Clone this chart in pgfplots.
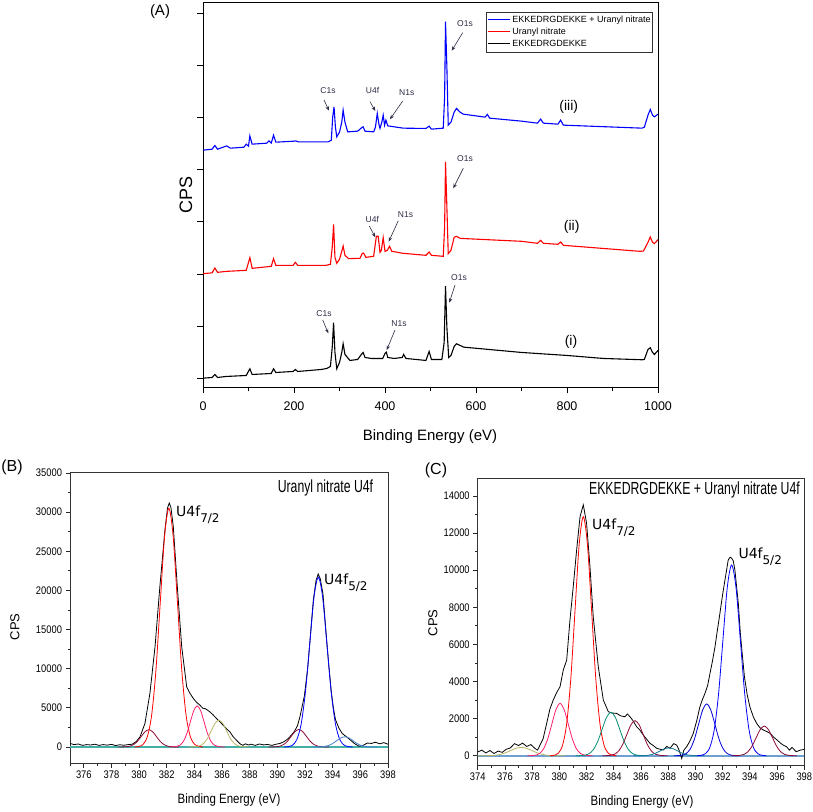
\documentclass[border=0pt]{standalone}
\usepackage{pgfplots}
\pgfplotsset{compat=1.18}
\usepackage{fontspec}
\setmainfont{Liberation Sans}
\newfontfamily\narrowA[FakeStretch=0.85]{Liberation Sans}
\newfontfamily\narrowT[FakeStretch=0.7]{Liberation Sans}
\newfontfamily\dejavu{DejaVu Sans}
\usetikzlibrary{arrows.meta}
\definecolor{annot}{RGB}{45,45,70}
\definecolor{maroonc}{RGB}{140,10,50}
\definecolor{pinkc}{RGB}{255,30,110}
\definecolor{olivec}{RGB}{185,180,100}
\definecolor{lbluec}{RGB}{70,130,210}
\definecolor{tealb}{RGB}{70,175,170}
\definecolor{tealg}{RGB}{0,140,115}
\definecolor{teals}{RGB}{20,120,150}
\definecolor{basec}{RGB}{110,160,210}
\definecolor{blueA}{RGB}{0,0,255}
\definecolor{redA}{RGB}{255,0,0}
\pgfplotsset{xps/.style={scale only axis, anchor=south west, tick align=outside,
  xtick pos=bottom, ytick pos=left, major tick length=4.5pt, minor tick length=2.5pt,
  tick style={black!85, line width=0.8pt}, axis line style={black!80, line width=1pt},
  ticklabel style={font=\narrowA\fontsize{11}{12}\selectfont},
  /pgf/number format/assume math mode=true, /pgf/number format/1000 sep={},
  scaled ticks=false, clip=true}}
\begin{document}
\begin{tikzpicture}[x=1pt,y=1pt]
\useasboundingbox (0,0) rectangle (813,811);
% ---------------- Panel A ----------------
\begin{axis}[at={(203pt,423.5pt)}, anchor=south west, scale only axis,
  width=455pt, height=384.5pt, xmin=0, xmax=1000, ymin=0, ymax=384,
  xtick={0,200,400,600,800,1000}, minor xtick={100,300,500,700,900},
  ytick={9,61.1,113.3,165.4,217.6,269.7,321.9,374}, yticklabels={},
  tick align=outside, xtick pos=bottom, ytick pos=left,
  major tick length=6pt, minor tick length=4pt,
  tick style={black, line width=1pt}, axis line style={black, line width=1pt},
  ticklabel style={font=\fontsize{12.5}{13}\selectfont},
  xticklabel style={yshift=-5pt},
  /pgf/number format/assume math mode=true, /pgf/number format/1000 sep={},
  every axis plot/.append style={line width=1.1pt}]
\addplot[blueA] coordinates {(0,237) (20,238) (26,241.7) (32,238) (52,241.3) (60,239) (90,240) (95,243) (100,241) (103,251.3) (108,243) (140,244) (145,246.3) (150,244) (155,252) (160,245) (200,246) (203,246.3) (210,245.3) (275,245.3) (282,247) (285,270) (288,280.3) (291,260) (294,250.3) (300,255) (305,265) (308,277) (312,265) (318,255.3) (340,256) (350,260) (352,260.3) (356,256) (375,255.3) (379,260) (383,273.7) (387,262) (389,258.7) (393,265) (396,272) (399,262) (402,267) (406,261.3) (440,259) (490,258.7) (497,261) (502,258) (528,259) (531,290) (533,365.3) (536,320) (539,262) (545,265) (552,275) (557,278.7) (565,275) (572,273) (620,270) (625,272.7) (630,269) (700,266) (735,264) (742,268) (748,264) (780,263) (786,267) (792,262) (965,259) (970,260) (978,272) (983,277.7) (988,272) (992,270.3) (1000,273)};
\addplot[redA] coordinates {(0,113.7) (20,114.5) (26,119.3) (32,115) (52,116) (95,117) (103,129.7) (108,119) (150,121) (155,128.7) (160,122) (198,122) (203,125) (208,122) (270,122) (280,123) (284,140) (287,163) (290,130) (294,124) (300,128) (305,136) (308,141.3) (312,132) (320,128.7) (345,129) (350,134) (353,134.3) (358,130) (375,131) (381,151) (385,151) (389,135) (392,137) (396,149.7) (400,136) (405,137) (410,141) (415,136) (440,134) (490,132) (497,135.3) (502,132) (528,131) (531,160) (533,225.3) (536,180) (539,133.7) (545,137) (552,150) (557,151) (565,149) (575,148.7) (700,146) (735,144) (742,147) (748,144) (780,143) (786,145.3) (792,142) (960,136) (968,136.3) (978,145) (983,150.3) (988,145) (992,143.7) (1000,147.7)};
\addplot[black] coordinates {(0,9.3) (20,10) (26,13) (32,10) (50,11) (95,12) (103,18.7) (108,13) (150,14) (155,18.7) (160,15) (198,16) (203,18) (208,16) (260,18) (272,19) (280,21) (284,40) (287,64.7) (290,35) (294,18.7) (300,25) (305,35) (308,43.7) (312,33) (323,27) (340,28) (348,33) (352,35) (356,30) (370,29) (395,29) (400,34) (403,35.3) (406,30) (420,29) (438,30) (441,33) (446,29) (490,27) (497,36) (502,28) (525,28) (530,45) (533,101.3) (536,60) (540,30) (545,32) (552,41) (557,43.7) (565,42) (573,40.3) (700,35) (800,32) (880,29) (965,27.7) (970,28) (978,38) (983,39.7) (988,35) (992,33) (1000,37)};
\end{axis}
\node[draw=black!80, line width=0.7pt, anchor=north east, inner sep=2pt, fill=white,
  font=\fontsize{9}{12}\selectfont] at (653,799) {\begin{tabular}{@{}l@{\hspace{2pt}}l@{}}
\textcolor{blueA}{\rule[2.6pt]{22pt}{1.2pt}} & EKKEDRGDEKKE + Uranyl nitrate\\
\textcolor{redA}{\rule[2.6pt]{22pt}{1.2pt}} & Uranyl nitrate\\
\textcolor{black}{\rule[2.6pt]{22pt}{1.2pt}} & EKKEDRGDEKKE
\end{tabular}};
\node[font=\fontsize{15}{16}\selectfont] at (430,374) {Binding Energy (eV)};
\node[font=\fontsize{18}{19}\selectfont, rotate=90] at (186,616) {CPS};
\node[font=\fontsize{15}{16}\selectfont] at (160,799) {(A)};
\begin{scope}[every node/.style={font=\fontsize{8.5}{9}\selectfont, text=annot, inner sep=0pt}]
\node at (328,720.3) {C1s}; \node at (372.5,720.3) {U4f}; \node at (406.7,718.3) {N1s}; \node at (465,787) {O1s};
\node at (465,652.7) {O1s}; \node at (372.3,591.3) {U4f}; \node at (405.5,596.7) {N1s};
\node at (324,497) {C1s}; \node at (399,487) {N1s}; \node at (459,533.7) {O1s};
\end{scope}
\begin{scope}[annot, line width=0.6pt, -{Stealth[length=4.5pt,width=3.5pt]}]
\draw (324,711) -- (329,700.3); \draw (370,709.3) -- (375.3,700); \draw (402.7,710) -- (390,691.7); \draw (462.7,778.3) -- (451.7,760.3);
\draw (463.3,642.7) -- (453.3,622.7); \draw (369.3,585) -- (375.3,573.7); \draw (398.3,590.3) -- (388.7,569.3);
\draw (322.7,491) -- (328.3,477.7); \draw (395,481) -- (386.7,461); \draw (455,526) -- (449.3,508.3);
\end{scope}
\node[font=\fontsize{14}{15}\selectfont] at (568.7,704) {(iii)};
\node[font=\fontsize{14}{15}\selectfont] at (571.7,584.3) {(ii)};
\node[font=\fontsize{14}{15}\selectfont] at (571,469) {(i)};
% ---------------- Panel B ----------------
\begin{axis}[xps, at={(70pt,48pt)}, width=318pt, height=290pt,
  xmin=375, xmax=398, ymin=-2050, ymax=35000,
  xtick={376,378,...,398}, minor xtick={375,377,...,397},
  ytick={0,5000,...,35000}, minor ytick={2500,7500,...,32500},
  every axis plot/.append style={line width=0.8pt}]
\addplot[tealb, line width=1.6pt] coordinates {(375,0) (398,0)};
\addplot[black] coordinates {(375.0,450) (375.3,300) (375.6,380) (375.9,200) (376.2,300) (376.5,250) (376.8,350) (377.1,200) (377.4,300) (377.7,230) (378.0,330) (378.3,180) (378.6,280) (378.9,220) (379.2,300) (379.5,350) (379.8,700) (380.06,1280) (380.42,3000) (380.78,6840) (381.15,12800) (381.5,20490) (381.87,27750) (382.05,30500) (382.18,31170) (382.3,30600) (382.47,28170) (382.76,20490) (383.08,12800) (383.44,7680) (383.68,6840) (383.92,6200) (384.15,5700) (384.4,5340) (384.6,4950) (384.76,4910) (384.95,4700) (385.12,4480) (385.35,4100) (385.6,3630) (385.85,3200) (386.08,2780) (386.3,2350) (386.57,1920) (386.8,1300) (387.05,850) (387.3,400) (387.5,213) (387.7,400) (387.9,250) (388.1,350) (388.4,200) (388.7,380) (389.0,260) (389.3,320) (389.6,200) (389.9,350) (390.2,450) (390.5,700) (390.8,1100) (391.0,1500) (391.2,1900) (391.45,2700) (391.63,3840) (391.95,6500) (392.2,10200) (392.4,14500) (392.6,18800) (392.8,21300) (392.95,22100) (393.1,21500) (393.3,19500) (393.5,15000) (393.7,10800) (393.9,7000) (394.05,5000) (394.2,3500) (394.45,2400) (394.7,1700) (395.0,1300) (395.3,850) (395.6,400) (395.9,100) (396.2,200) (396.5,500) (396.8,450) (397.1,600) (397.4,400) (397.7,550) (398.0,350)};
\addplot[maroonc, smooth] coordinates {(378.5,0) (378.775,4.8) (379.05,24.4) (379.325,96.6) (379.6,297.7) (379.875,714.3) (380.15,1334.3) (380.425,1941.5) (380.7,2200) (380.975,1941.5) (381.25,1334.3) (381.525,714.3) (381.8,297.7) (382.075,96.6) (382.35,24.4) (382.625,4.8) (382.9,0)};
\addplot[redA, smooth] coordinates {(379.67,0) (379.98,67) (380.29,339) (380.6,1339) (380.91,4127) (381.22,9903) (381.53,18498) (381.84,26916) (382.15,30500) (382.46,26916) (382.77,18498) (383.08,9903) (383.39,4127) (383.7,1339) (384.01,339) (384.32,67) (384.63,0)};
\addplot[pinkc, smooth] coordinates {(382.2,0) (382.45,11.6) (382.7,58.3) (382.95,230.5) (383.2,710.3) (383.45,1704.7) (383.7,3184.1) (383.95,4633.1) (384.2,5250) (384.45,4633.1) (384.7,3184.1) (384.95,1704.7) (385.2,710.3) (385.45,230.5) (385.7,58.3) (385.95,11.6) (386.2,0)};
\addplot[olivec, smooth] coordinates {(383.57,0) (383.845,7.5) (384.12,38) (384.395,150) (384.67,463) (384.945,1110) (385.22,2074) (385.495,3018) (385.77,3420) (386.045,3018) (386.32,2074) (386.595,1110) (386.87,463) (387.145,150) (387.42,38) (387.695,7.5) (387.97,0)};
\addplot[maroonc, smooth] coordinates {(389.35,0) (389.625,4.9) (389.9,24.8) (390.175,97.9) (390.45,301.7) (390.725,724.1) (391.0,1352.5) (391.275,1968) (391.55,2230) (391.825,1968) (392.1,1352.5) (392.375,724.1) (392.65,301.7) (392.925,97.9) (393.2,24.8) (393.475,4.9) (393.75,0)};
\addplot[blueA, smooth] coordinates {(390.48,0) (390.79,47.7) (391.1,240.9) (391.41,952.6) (391.72,2936) (392.03,7046) (392.34,13161) (392.65,19150) (392.96,21700) (393.27,19150) (393.58,13161) (393.89,7046) (394.2,2936) (394.51,952.6) (394.82,240.9) (395.13,47.7) (395.44,0)};
\addplot[lbluec, smooth] coordinates {(392.48,0) (392.78,2.9) (393.08,14.4) (393.38,57) (393.68,176) (393.98,422) (394.28,788) (394.58,1147) (394.88,1300) (395.18,1147) (395.48,788) (395.78,422) (396.08,176) (396.38,57) (396.68,14.4) (396.98,2.9) (397.28,0)};
\end{axis}
\node[font=\narrowA\fontsize{13.5}{15}\selectfont] at (229,11) {Binding Energy (eV)};
\node[font=\fontsize{13}{14}\selectfont, rotate=90] at (15,184) {CPS};
\node[font=\fontsize{16}{17}\selectfont] at (12,343.5) {(B)};
\node[anchor=base east, inner sep=0pt, font=\narrowT\fontsize{17.5}{18}\selectfont] at (373.3,318.3) {Uranyl nitrate U4f};
\node[anchor=base west, inner sep=0pt, font=\dejavu\fontsize{14}{15}\selectfont] at (176,294.3) {U4f\raisebox{-6pt}{\fontsize{12}{12}\selectfont 7/2}};
\node[anchor=base west, inner sep=0pt, font=\dejavu\fontsize{14}{15}\selectfont] at (324,226.7) {U4f\raisebox{-6pt}{\fontsize{12}{12}\selectfont 5/2}};
% ---------------- Panel C ----------------
\begin{axis}[xps, at={(477.7pt,46pt)}, width=326.6pt, height=286.7pt,
  xmin=374, xmax=398, ymin=-500, ymax=14950,
  xtick={374,376,...,398}, minor xtick={375,377,...,397},
  ytick={0,2000,...,14000}, minor ytick={1000,3000,...,13000},
  every axis plot/.append style={line width=0.8pt}]
\addplot[basec, line width=1.6pt] coordinates {(374,0) (398,0)};
\addplot[black] coordinates {(374.0,200) (374.3,300) (374.6,150) (374.9,280) (375.2,120) (375.5,250) (375.8,180) (376.1,350) (376.4,420) (376.7,650) (377.0,550) (377.3,680) (377.6,500) (377.9,600) (378.2,400) (378.4,300) (378.58,577) (378.8,900) (379.07,1745) (379.3,2500) (379.55,3000) (379.8,3400) (380.05,3720) (380.29,4620) (380.54,5160) (380.78,7320) (381.02,9110) (381.27,11090) (381.52,12880) (381.76,13520) (382.0,12530) (382.25,10190) (382.49,7490) (382.86,4800) (383.23,3000) (383.6,2370) (383.9,2300) (384.21,2280) (384.5,2150) (384.82,2100) (385.0,2250) (385.19,2100) (385.4,1900) (385.68,1560) (385.9,1400) (386.17,1115) (386.4,900) (386.66,670) (386.9,550) (387.15,400) (387.4,350) (387.64,310) (387.9,500) (388.13,400) (388.4,650) (388.62,577) (388.8,300) (388.99,-150) (389.15,300) (389.36,490) (389.6,800) (389.84,1200) (390.1,1900) (390.33,2640) (390.5,3000) (390.7,3360) (390.9,3800) (391.07,4440) (391.25,5100) (391.44,5880) (391.6,6700) (391.8,7680) (392.0,8700) (392.17,9470) (392.41,10550) (392.55,10700) (392.66,10640) (392.78,10500) (392.9,10010) (393.15,8210) (393.3,6600) (393.45,5400) (393.6,4260) (393.8,3300) (394.0,2640) (394.25,2100) (394.5,1740) (394.75,1500) (395.0,1380) (395.25,1300) (395.5,1200) (395.75,1000) (396.0,845) (396.3,650) (396.5,550) (396.7,485) (396.9,300) (397.1,450) (397.4,215) (397.7,300) (398.0,340)};
\addplot[olivec, smooth] coordinates {(374.0,0) (374.4,1) (374.8,5) (375.2,19.8) (375.6,60.9) (376.0,146.1) (376.4,272.9) (376.8,397.1) (377.2,450) (377.6,397.1) (378.0,272.9) (378.4,146.1) (378.8,60.9) (379.2,19.8) (379.6,5) (380.0,1) (380.4,0)};
\addplot[pinkc, smooth] coordinates {(377.65,0) (377.95,6.2) (378.25,31.3) (378.55,123.8) (378.85,381.5) (379.15,915.7) (379.45,1710.3) (379.75,2488.7) (380.05,2820) (380.35,2488.7) (380.65,1710.3) (380.95,915.7) (381.25,381.5) (381.55,123.8) (381.85,31.3) (382.15,6.2) (382.45,0)};
\addplot[redA, smooth] coordinates {(379.32,0) (379.625,28.3) (379.93,143) (380.235,565.4) (380.54,1742.7) (380.845,4182.1) (381.15,7811.7) (381.455,11366.6) (381.76,12880) (382.065,11366.6) (382.37,7811.7) (382.675,4182.1) (382.98,1742.7) (383.285,565.4) (383.59,143) (383.895,28.3) (384.2,0)};
\addplot[tealg, smooth] coordinates {(381.19,0) (381.515,5.1) (381.84,26) (382.165,102.7) (382.49,316.6) (382.815,759.8) (383.14,1419.2) (383.465,2065) (383.79,2340) (384.115,2065) (384.44,1419.2) (384.765,759.8) (385.09,316.6) (385.415,102.7) (385.74,26) (386.065,5.1) (386.39,0)};
\addplot[maroonc, smooth] coordinates {(383.16,0) (383.46,4.2) (383.76,21) (384.06,83) (384.36,255.7) (384.66,613.7) (384.96,1146.3) (385.26,1667.9) (385.56,1890) (385.86,1667.9) (386.16,1146.3) (386.46,613.7) (386.76,255.7) (387.06,83) (387.36,21) (387.66,4.2) (387.96,0)};
\addplot[teals, smooth] coordinates {(385.45,0) (385.775,0.9) (386.1,4.7) (386.425,18.4) (386.75,56.8) (387.075,136.4) (387.4,254.7) (387.725,370.7) (388.05,420) (388.375,370.7) (388.7,254.7) (389.025,136.4) (389.35,56.8) (389.675,18.4) (390.0,4.7) (390.325,0.9) (390.65,0)};
\addplot[blueA!85!black, smooth] coordinates {(388.43,0) (388.73,6.1) (389.03,31) (389.33,122.5) (389.63,377.5) (389.93,905.9) (390.23,1692.1) (390.53,2462.2) (390.83,2790) (391.13,2462.2) (391.43,1692.1) (391.73,905.9) (392.03,377.5) (392.33,122.5) (392.63,31) (392.93,6.1) (393.23,0)};
\addplot[blueA, smooth] coordinates {(390.1,0) (390.42,22.6) (390.74,114.1) (391.06,451.3) (391.38,1390.9) (391.7,3337.9) (392.02,6234.8) (392.34,9072.1) (392.66,10280) (392.98,9072.1) (393.3,6234.8) (393.62,3337.9) (393.94,1390.9) (394.26,451.3) (394.58,114.1) (394.9,22.6) (395.22,0)};
\addplot[maroonc, smooth] coordinates {(392.66,0) (392.96,3.5) (393.26,17.8) (393.56,70.2) (393.86,216.5) (394.16,519.5) (394.46,970.4) (394.76,1412) (395.06,1600) (395.36,1412) (395.66,970.4) (395.96,519.5) (396.26,216.5) (396.56,70.2) (396.86,17.8) (397.16,3.5) (397.46,0)};
\end{axis}
\node[font=\narrowA\fontsize{13.5}{15}\selectfont] at (642,8.5) {Binding Energy (eV)};
\node[font=\fontsize{13}{14}\selectfont, rotate=90] at (433,188) {CPS};
\node[font=\fontsize{16}{17}\selectfont] at (436,341) {(C)};
\node[anchor=base east, inner sep=0pt, font=\narrowT\fontsize{17.5}{18}\selectfont] at (800,316) {EKKEDRGDEKKE + Uranyl nitrate U4f};
\node[anchor=base west, inner sep=0pt, font=\dejavu\fontsize{14}{15}\selectfont] at (592,281.5) {U4f\raisebox{-6pt}{\fontsize{12}{12}\selectfont 7/2}};
\node[anchor=base west, inner sep=0pt, font=\dejavu\fontsize{14}{15}\selectfont] at (738.3,252.7) {U4f\raisebox{-6pt}{\fontsize{12}{12}\selectfont 5/2}};
\end{tikzpicture}
\end{document}
